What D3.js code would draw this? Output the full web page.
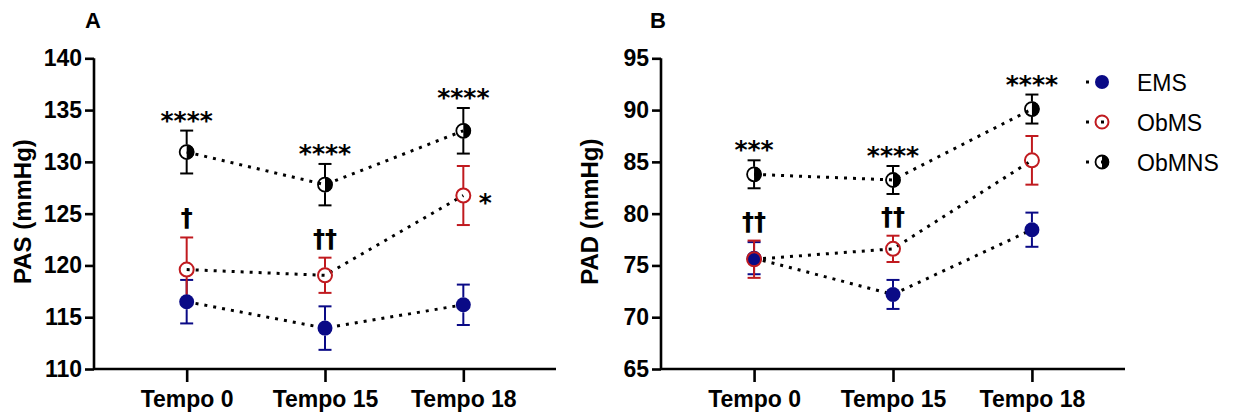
<!DOCTYPE html>
<html>
<head>
<meta charset="utf-8">
<script src="https://cdn.jsdelivr.net/npm/d3@7"></script>
<style>
  body { margin: 0; background: #fff; }
  svg { display: block; }
  text { font-family: "Liberation Sans", Arial, sans-serif; }
  text.sym { font-family: "DejaVu Sans", sans-serif; }
</style>
</head>
<body>
<svg id="chart" width="1236" height="414"></svg>
<script>
// ---------- DATA ----------
const categories = ["Tempo 0", "Tempo 15", "Tempo 18"];
const seriesNames = ["EMS", "ObMS", "ObMNS"];

// Panel A: PAS (mmHg)
const pasEMS = [116.5, 113.95, 116.2];
const pasEMSerr = [2.1, 2.1, 1.95];
const pasObMS = [119.6, 119.05, 126.75];
const pasObMSerr = [3.1, 1.7, 2.85];
const pasObMNS = [130.95, 127.8, 133.0];
const pasObMNSerr = [2.07, 2.0, 2.2];
const pasTicks = [110, 115, 120, 125, 130, 135, 140];

// Panel B: PAD (mmHg)
const padEMS = [75.7, 72.2, 78.45];
const padEMSerr = [1.55, 1.4, 1.65];
const padObMS = [75.6, 76.6, 85.15];
const padObMSerr = [1.8, 1.27, 2.35];
const padObMNS = [83.8, 83.25, 90.1];
const padObMNSerr = [1.35, 1.35, 1.4];
const padTicks = [65, 70, 75, 80, 85, 90, 95];

// Significance annotations
const pasNotes = [
  { cat: "Tempo 0", series: "ObMNS", text: "****", place: "above" },
  { cat: "Tempo 15", series: "ObMNS", text: "****", place: "above" },
  { cat: "Tempo 18", series: "ObMNS", text: "****", place: "above" },
  { cat: "Tempo 0", series: "ObMS", text: "†", place: "above" },
  { cat: "Tempo 15", series: "ObMS", text: "††", place: "above" },
  { cat: "Tempo 18", series: "ObMS", text: "*", place: "right" }
];
const padNotes = [
  { cat: "Tempo 0", series: "ObMNS", text: "***", place: "above" },
  { cat: "Tempo 15", series: "ObMNS", text: "****", place: "above" },
  { cat: "Tempo 18", series: "ObMNS", text: "****", place: "above" },
  { cat: "Tempo 0", series: "ObMS", text: "††", place: "above" },
  { cat: "Tempo 15", series: "ObMS", text: "††", place: "above" }
];

// ---------- STYLE ----------
const colors = { EMS: "#0a0a86", ObMS: "#c01a1f", ObMNS: "#000000" };
const R = 7.5;
const CAP = 6.5;

const svg = d3.select("#chart");

function buildSeries(vals, errs) {
  return categories.map((c, i) => ({ cat: c, v: vals[i], e: errs[i] }));
}

function drawPanel(cfg) {
  const g = svg.append("g");
  const x = d3.scalePoint().domain(categories).range([cfg.x0, cfg.x1]).padding(0.67);
  const y = d3.scaleLinear().domain(cfg.domain).range([369, 58.3]);

  // axes
  const yAxis = d3.axisLeft(y).tickValues(cfg.ticks).tickSize(9).tickPadding(3).tickFormat(d3.format("d"));
  const ya = g.append("g").attr("transform", `translate(${cfg.x0},0)`).call(yAxis);
  ya.select(".domain").attr("stroke", "#000").attr("stroke-width", 2.6).attr("d", `M0,${y(cfg.domain[1])}V${y(cfg.domain[0])}`);
  ya.selectAll(".tick line").attr("stroke", "#000").attr("stroke-width", 2.6);
  ya.selectAll(".tick text").attr("font-size", 23).attr("font-weight", "bold").attr("fill", "#000");

  const xAxis = d3.axisBottom(x).tickSize(13).tickPadding(10);
  const xa = g.append("g").attr("transform", `translate(0,369)`).call(xAxis);
  xa.select(".domain").attr("stroke", "#000").attr("stroke-width", 2.6).attr("d", `M${cfg.x0},0H${cfg.x1}`);
  xa.selectAll(".tick line").attr("stroke", "#000").attr("stroke-width", 2.6);
  xa.selectAll(".tick text").attr("font-size", 23).attr("font-weight", "bold").attr("fill", "#000")
    .attr("dy", null).attr("y", 38);

  // y title
  g.append("text")
    .attr("transform", `translate(${cfg.titleX},${(58.3 + 369) / 2 - 2}) rotate(-90)`)
    .attr("text-anchor", "middle").attr("font-size", 24).attr("font-weight", "bold")
    .text(cfg.title);

  // panel letter
  g.append("text").attr("x", cfg.letterX).attr("y", 28).attr("font-size", 22).attr("font-weight", "bold")
    .attr("text-anchor", "middle").text(cfg.letter);

  const seriesList = [
    { name: "EMS", data: buildSeries(cfg.ems, cfg.emsErr) },
    { name: "ObMS", data: buildSeries(cfg.obms, cfg.obmsErr) },
    { name: "ObMNS", data: buildSeries(cfg.obmns, cfg.obmnsErr) }
  ];

  // dotted connecting lines
  const line = d3.line().x(d => x(d.cat)).y(d => y(d.v));
  seriesList.forEach(s => {
    g.append("path").datum(s.data).attr("d", line)
      .attr("fill", "none").attr("stroke", "#000").attr("stroke-width", 3)
      .attr("stroke-dasharray", "3,6");
  });

  // error bars
  seriesList.forEach(s => {
    const eg = g.append("g").attr("stroke", colors[s.name]).attr("stroke-width", 2);
    s.data.forEach(d => {
      const cx = x(d.cat), top = y(d.v + d.e), bot = y(d.v - d.e), cy = y(d.v);
      eg.append("line").attr("x1", cx).attr("x2", cx).attr("y1", top).attr("y2", cy - R);
      eg.append("line").attr("x1", cx).attr("x2", cx).attr("y1", cy + R).attr("y2", bot);
      eg.append("line").attr("x1", cx - CAP).attr("x2", cx + CAP).attr("y1", top).attr("y2", top);
      eg.append("line").attr("x1", cx - CAP).attr("x2", cx + CAP).attr("y1", bot).attr("y2", bot);
    });
  });

  // markers
  seriesList.forEach(s => {
    s.data.forEach(d => drawMarker(g, s.name, x(d.cat), y(d.v)));
  });

  // annotations
  const lookup = {};
  seriesList.forEach(s => s.data.forEach(d => lookup[s.name + "|" + d.cat] = d));
  cfg.notes.forEach(n => {
    const d = lookup[n.series + "|" + n.cat];
    const isStar = n.text.indexOf("*") >= 0;
    let tx, ty;
    if (n.place === "above") {
      tx = x(n.cat);
      const cyc = y(d.v + d.e) - (isStar ? 17 : 19);
      ty = cyc + (isStar ? 15 : 8);
    } else {
      tx = x(n.cat) + 22;
      ty = y(d.v) + 15;
    }
    g.append("text").attr("class", "sym").attr("x", tx).attr("y", ty).attr("text-anchor", "middle")
      .attr("font-weight", "bold")
      .attr("font-size", isStar ? 25 : 24)
      .text(n.text);
  });
}

function drawMarker(g, name, cx, cy, r) {
  r = r || R;
  if (name === "EMS") {
    g.append("circle").attr("cx", cx).attr("cy", cy).attr("r", r).attr("fill", colors.EMS);
  } else if (name === "ObMS") {
    g.append("circle").attr("cx", cx).attr("cy", cy).attr("r", r - 0.5).attr("fill", "none")
      .attr("stroke", colors.ObMS).attr("stroke-width", 2);
  } else {
    g.append("path")
      .attr("d", `M${cx},${cy - r}A${r},${r} 0 0 1 ${cx},${cy + r}Z`)
      .attr("fill", "#000");
    g.append("circle").attr("cx", cx).attr("cy", cy).attr("r", r - 0.5).attr("fill", "none")
      .attr("stroke", "#000").attr("stroke-width", 1.8);
  }
}

drawPanel({
  x0: 94, x1: 556, domain: [110, 140], ticks: pasTicks, title: "PAS (mmHg)", titleX: 31, letter: "A", letterX: 93,
  ems: pasEMS, emsErr: pasEMSerr, obms: pasObMS, obmsErr: pasObMSerr, obmns: pasObMNS, obmnsErr: pasObMNSerr,
  notes: pasNotes
});
drawPanel({
  x0: 661, x1: 1125, domain: [65, 95], ticks: padTicks, title: "PAD (mmHg)", titleX: 598, letter: "B", letterX: 658,
  ems: padEMS, emsErr: padEMSerr, obms: padObMS, obmsErr: padObMSerr, obmns: padObMNS, obmnsErr: padObMNSerr,
  notes: padNotes
});

// legend
const legend = svg.append("g").attr("transform", "translate(1102,82)");
seriesNames.forEach((name, i) => {
  const row = legend.append("g").attr("transform", `translate(0,${i * 40})`);
  row.append("line").attr("x1", -16).attr("x2", 12).attr("y1", 0).attr("y2", 0)
    .attr("stroke", "#000").attr("stroke-width", 3).attr("stroke-dasharray", "3,12");
  drawMarker(row, name, 0, 0, 7);
  row.append("text").attr("x", 35).attr("y", 8.5).attr("font-size", 23).text(name);
});
</script>
</body>
</html>
